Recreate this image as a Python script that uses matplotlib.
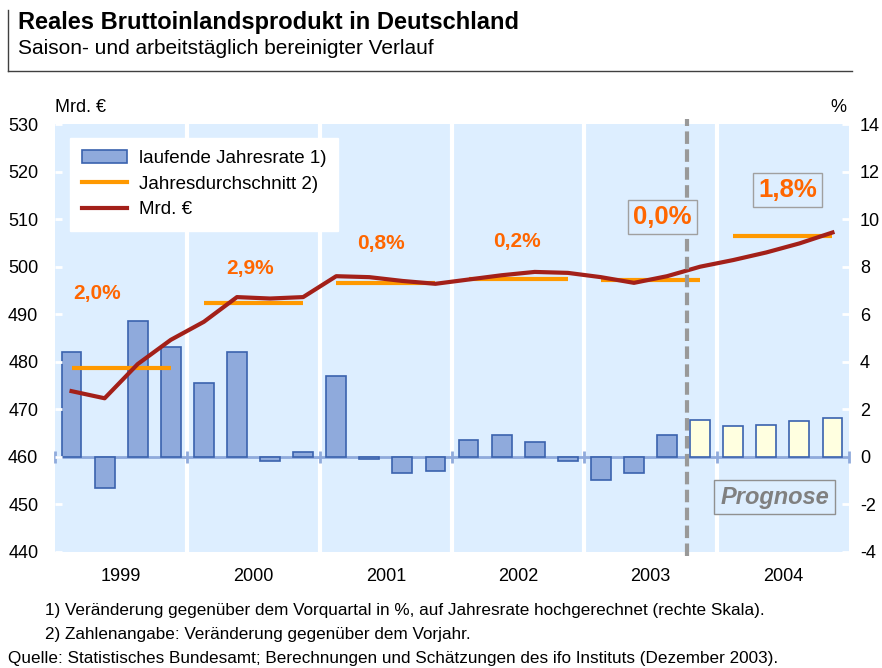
import numpy as np
import matplotlib
matplotlib.use("Agg")
import matplotlib.pyplot as plt
from matplotlib.patches import Patch
from matplotlib.lines import Line2D

plt.rcParams['font.family'] = ['Liberation Sans', 'DejaVu Sans']
plt.rcParams['axes.unicode_minus'] = False

# quarterly data 1999Q1 - 2004Q4
years = ["1999", "2000", "2001", "2002", "2003", "2004"]
rate = [4.4, -1.3, 5.7, 4.6,
        3.1, 4.4, -0.2, 0.2,
        3.4, -0.1, -0.7, -0.6,
        0.7, 0.9, 0.6, -0.2,
        -1.0, -0.7, 0.9, 1.55,
        1.3, 1.35, 1.5, 1.65]
gdp = [473.8, 472.3, 479.5, 484.6,
       488.4, 493.6, 493.3, 493.6,
       498.0, 497.8, 497.0, 496.4,
       497.3, 498.2, 498.9, 498.7,
       497.8, 496.6, 498.0, 500.0,
       501.4, 503.0, 504.9, 507.2]
annual_avg = [478.7, 492.4, 496.6, 497.5, 497.2, 506.4]
annual_lbl = ["2,0%", "2,9%", "0,8%", "0,2%", "0,0%", "1,8%"]
n_actual = 19  # first forecast quarter index

fig = plt.figure(figsize=(8.82, 6.68), dpi=100)
ax = fig.add_axes([55/882, 116.3/668, 794/882, 427.5/668])
ax2 = ax.twinx()

bg = "#ddeeff"
ax.set_facecolor(bg)
for s in ax.spines.values():
    s.set_visible(False)
for s in ax2.spines.values():
    s.set_visible(False)

x = np.arange(len(rate))
cols = ["#8faadc"] * n_actual + ["#ffffe0"] * (len(rate) - n_actual)
ax.bar(x, rate, width=0.6, color=cols, edgecolor="#3a62ae", linewidth=1.2, zorder=3)

# year separators
for b in range(1, 6):
    ax.axvline(b * 4 - 0.5, color="white", lw=3, zorder=1)

# zero line with small ticks
ax.axhline(0, color="#8faadc", lw=2, zorder=2)
ax.plot(np.arange(0, 7) * 4 - 0.5, [0] * 7, ls="none", marker="|", ms=8, mew=2,
        color="#8faadc", zorder=2, clip_on=False)

ax.set_xlim(-0.5, 23.5)
ax.set_ylim(-4, 14)
ax.set_yticks(np.arange(-4, 15, 2))
ax.yaxis.tick_right()
ax.tick_params(axis="y", direction="in", length=5, width=2, color="white",
               labelsize=13, pad=8)
ax.set_xticks([1.5 + 4 * i for i in range(6)])
ax.set_xticklabels(years, fontsize=13)
ax.tick_params(axis="x", length=0, pad=12)

# GDP line and annual averages on the left scale
ax2.plot(x, gdp, color="#a32019", lw=3, zorder=5)
for i, v in enumerate(annual_avg):
    ax2.plot([4 * i, 4 * i + 3], [v, v], color="#ff9900", lw=3, zorder=4,
             solid_capstyle="butt")
ax2.set_ylim(440, 530)
ax2.set_yticks(np.arange(440, 531, 10))
ax2.yaxis.tick_left()
ax2.tick_params(axis="y", direction="in", length=5, width=2, color="white",
                labelsize=13, pad=12)

# forecast separator
ax2.plot([18.6, 18.6], [439, 531], color="#999999", lw=3, ls=(0, (3, 1.3)),
         zorder=6, clip_on=False)

# annual growth labels
lbl_pos = [(0.77, 494.3), (5.39, 499.7), (9.35, 504.8), (13.46, 505.4),
           (17.87, 510.5), (21.65, 516.1)]
for i, (t, (px, py)) in enumerate(zip(annual_lbl, lbl_pos)):
    if i >= 4:
        ax2.text(px, py, t, color="#ff6600", fontsize=18.5, fontweight="bold",
                 ha="center", va="center", zorder=7,
                 bbox=dict(boxstyle="square,pad=0.2", fc=bg, ec="#a0a0a0", lw=1))
    else:
        ax2.text(px, py, t, color="#ff6600", fontsize=15, fontweight="bold",
                 ha="center", va="center", zorder=7)

ax2.text(21.25, 451.5, "Prognose", color="#808080", fontsize=17, fontweight="bold",
         style="italic", ha="center", va="center", zorder=7,
         bbox=dict(boxstyle="square,pad=0.25", fc=bg, ec="#909090", lw=1))

# legend
handles = [Patch(facecolor="#8faadc", edgecolor="#3a62ae", lw=1.2),
           Line2D([], [], color="#ff9900", lw=3),
           Line2D([], [], color="#a32019", lw=3)]
leg = ax2.legend(handles, ["laufende Jahresrate 1)", "Jahresdurchschnitt 2)", "Mrd. €"],
                 loc="upper left", bbox_to_anchor=(0.019, 0.968), fontsize=13.5,
                 frameon=True, fancybox=False, framealpha=1, edgecolor="white",
                 handlelength=2.4, handletextpad=0.6, borderpad=0.65,
                 labelspacing=0.45, borderaxespad=0)
leg.set_zorder(10)

fig.text(55/882, 1 - 107/668, "Mrd. €", fontsize=13, va="center", ha="left")
fig.text(846/882, 1 - 107/668, "%", fontsize=13, va="center", ha="right")

# title block
fig.text(18/882, 1 - 22/668, "Reales Bruttoinlandsprodukt in Deutschland",
         fontsize=17, fontweight="bold", va="center")
fig.text(18/882, 1 - 48/668, "Saison- und arbeitstäglich bereinigter Verlauf",
         fontsize=15, va="center")
fig.add_artist(Line2D([8/882, 8/882], [1 - 10/668, 1 - 71/668], color="#404040", lw=1))
fig.add_artist(Line2D([8/882, 852/882], [1 - 71/668, 1 - 71/668], color="#404040", lw=1))

# footnotes
fig.text(45/882, 1 - 610/668,
         "1) Veränderung gegenüber dem Vorquartal in %, auf Jahresrate hochgerechnet (rechte Skala).",
         fontsize=12.3, va="center")
fig.text(45/882, 1 - 634/668, "2) Zahlenangabe: Veränderung gegenüber dem Vorjahr.",
         fontsize=12.3, va="center")
fig.text(8/882, 1 - 659/668,
         "Quelle: Statistisches Bundesamt; Berechnungen und Schätzungen des ifo Instituts (Dezember 2003).",
         fontsize=12.3, va="center")

fig.savefig("out.png", dpi=100)
